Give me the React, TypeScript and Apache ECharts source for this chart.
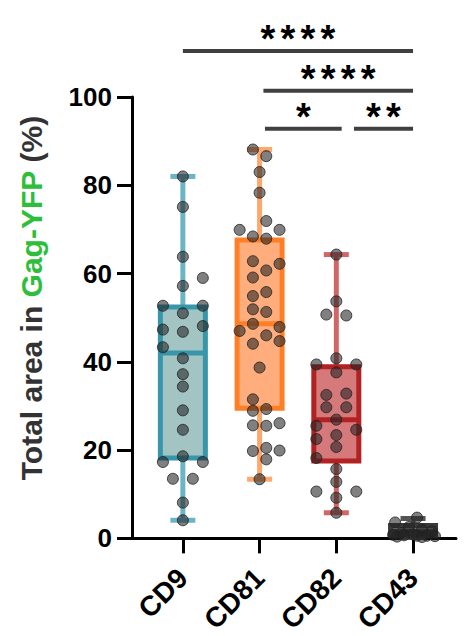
import React, { useEffect, useRef } from "react";
import * as echarts from "echarts";

// ---- data ----
const categories = ["CD9", "CD81", "CD82", "CD43"];
const yTicks = [0, 20, 40, 60, 80, 100];

const cd9Values = [82.0, 75.1, 63.8, 59.0, 57.2, 52.7, 52.7, 51.0, 47.3, 48.1, 46.8, 43.3, 40.8, 37.2, 34.4, 29.0, 24.6, 18.6, 17.3, 17.3, 13.5, 13.5, 8.1, 4.1];
const cd9Jitter = [0, 0, 0, 2, 0, -2, 2, 0, -2, 2, 0, -2, 0, 0, 0, 0, 0, 0, -2, 2, -1, 1, 0, 0];

const cd81Values = [88.1, 86.6, 83.0, 78.3, 71.9, 69.9, 69.9, 68.4, 67.9, 62.8, 62.2, 60.7, 59.1, 55.8, 54.9, 51.9, 51.3, 48.6, 47.0, 47.9, 46.0, 44.7, 44.1, 38.7, 31.5, 28.9, 29.3, 25.6, 25.5, 26.1, 19.8, 20.5, 19.9, 17.9, 13.4];
const cd81Jitter = [-0.67, 0.67, 0, 0, 0.67, -2, 2, -0.67, 0.67, -0.67, 2, 0.67, -0.67, 0.67, -0.67, -0.67, 0.67, -0.67, -2, 2, 0.67, 2, -0.67, 0, -0.67, -0.67, 0.67, -0.67, 0.67, 2, -0.67, 0.67, 2, 0.67, 0];

const cd82Values = [64.3, 53.7, 50.7, 50.5, 40.8, 39.4, 39.4, 37.6, 32.5, 32.8, 29.7, 29.7, 26.9, 25.5, 24.6, 23.4, 22.5, 20.7, 18.2, 15.7, 12.8, 10.6, 10.6, 9.2, 5.8];
const cd82Jitter = [0, 0, -1, 1, 0, -2, 2, 0, -1, 1, -1, 1, 0, -2, 2, 0, -2, 0, -2, 0, 0, -2, 2, 0, 0];

const cd43Values = [4.7, 3.6, 2.6, 2.0, 1.6, 1.2, 0.9, 0.8, 0.7, 0.6, 0.6, 0.5, 0.4, 0.3];
const cd43Jitter = [0.4, -1.8, -0.4, 0.9, 1.9, -1.2, 0, -2, -0.9, 0.4, 1.4, 2.2, -1.6, 0.9];

const boxMin = [4.1, 13.4, 5.8, 0.2];
const boxQ1 = [18.2, 29.5, 17.5, 0.7];
const boxMedian = [42.0, 48.6, 26.9, 1.5];
const boxQ3 = [52.4, 67.6, 38.9, 2.9];
const boxMax = [82.0, 88.1, 64.3, 4.5];

// significance brackets (x in category positions, level in y units)
const sigFrom = [1, 2.05, 2.07, 3.23];
const sigTo = [4, 4, 3.07, 4];
const sigLevel = [110.4, 101.4, 92.8, 92.8];
const sigLabels = ["****", "****", "*", "**"];

// ---- styles ----
const borderColors = ["#3796AA", "#FF7F27", "#B22222", "#3A3A3A"];
const fillColors = ["#A2C5C4", "#FFAD7C", "#D6797B", "#7A7A7A"];
const whiskerColors = ["#6BB5C6", "#FFA86E", "#D26666", "#555555"];
const JITTER_UNIT = 0.13; // one dot-width in category units
const FONT = "Arial, 'Liberation Sans', Helvetica, sans-serif";

const groups = [
  [cd9Values, cd9Jitter],
  [cd81Values, cd81Jitter],
  [cd82Values, cd82Jitter],
  [cd43Values, cd43Jitter],
];

export default function App() {
  const ref = useRef<HTMLDivElement>(null);
  useEffect(() => {
    if (!ref.current) return;
    const chart = echarts.init(ref.current, null, { renderer: "svg" });

    const pointData: number[][] = [];
    groups.forEach(([vals, jit], gi) => {
      (vals as number[]).forEach((v, i) => {
        pointData.push([gi + 1 + (jit as number[])[i] * JITTER_UNIT, v]);
      });
    });

    const boxData = categories.map((_, i) => [i + 1, boxMin[i], boxQ1[i], boxMedian[i], boxQ3[i], boxMax[i], i]);
    const sigData = sigLabels.map((_, i) => [sigFrom[i], sigTo[i], sigLevel[i], i]);

    const option: any = {
      animation: false,
      grid: { left: 132, right: 10, top: 97, bottom: 95, containLabel: false },
      xAxis: {
        type: "value",
        min: 0.337,
        max: 4.56,
        axisLine: { show: true, onZero: false, lineStyle: { color: "#000", width: 3 } },
        axisTick: { show: true, customValues: [1, 2, 3, 4], length: 15, lineStyle: { color: "#000", width: 3 } },
        axisLabel: {
          customValues: [1, 2, 3, 4],
          formatter: (v: number) => categories[Math.round(v) - 1] || "",
          rotate: 45,
          margin: 35,
          color: "#000",
          fontSize: 28,
          fontWeight: "bold",
          fontFamily: FONT,
        },
        splitLine: { show: false },
      },
      yAxis: {
        type: "value",
        min: 0,
        max: 100,
        interval: 20,
        axisLine: { show: true, onZero: false, lineStyle: { color: "#000", width: 3 } },
        axisTick: { show: true, length: 15, lineStyle: { color: "#000", width: 3 } },
        axisLabel: {
          customValues: yTicks,
          margin: 20,
          color: "#000",
          fontSize: 26,
          fontWeight: "bold",
          fontFamily: FONT,
        },
        splitLine: { show: false },
      },
      graphic: [
        {
          type: "text",
          x: 31,
          y: 298,
          rotation: Math.PI / 2,
          style: {
            text: "{a|Total area in }{b|Gag-YFP}{a| (%)}",
            align: "center",
            verticalAlign: "middle",
            rich: {
              a: { fill: "#333333", fontSize: 30, fontWeight: "bold", fontFamily: FONT },
              b: { fill: "#2DBE3C", fontSize: 30, fontWeight: "bold", fontFamily: FONT },
            },
          },
        },
      ],
      series: [
        {
          type: "custom",
          clip: false,
          data: boxData,
          z: 2,
          renderItem: (params: any, api: any) => {
            const x = api.value(0);
            const ci = api.value(6);
            const pMin = api.coord([x, api.value(1)]);
            const pQ1 = api.coord([x, api.value(2)]);
            const pMed = api.coord([x, api.value(3)]);
            const pQ3 = api.coord([x, api.value(4)]);
            const pMax = api.coord([x, api.value(5)]);
            const cx = pMin[0];
            const hb = 22.5;
            const hc = 12.5;
            const wStyle = { stroke: whiskerColors[ci], lineWidth: 5 };
            return {
              type: "group",
              children: [
                { type: "line", shape: { x1: cx, y1: pMax[1], x2: cx, y2: pQ3[1] }, style: wStyle },
                { type: "line", shape: { x1: cx, y1: pQ1[1], x2: cx, y2: pMin[1] }, style: wStyle },
                { type: "line", shape: { x1: cx - hc, y1: pMax[1], x2: cx + hc, y2: pMax[1] }, style: wStyle },
                { type: "line", shape: { x1: cx - hc, y1: pMin[1], x2: cx + hc, y2: pMin[1] }, style: wStyle },
                {
                  type: "rect",
                  shape: { x: cx - hb, y: pQ3[1], width: hb * 2, height: pQ1[1] - pQ3[1] },
                  style: { fill: fillColors[ci], stroke: borderColors[ci], lineWidth: 5 },
                },
                {
                  type: "line",
                  shape: { x1: cx - hb, y1: pMed[1], x2: cx + hb, y2: pMed[1] },
                  style: { stroke: borderColors[ci], lineWidth: 5 },
                },
              ],
            };
          },
        },
        {
          type: "scatter",
          data: pointData,
          clip: false,
          z: 3,
          symbol: "circle",
          symbolSize: 11,
          itemStyle: { color: "rgba(35,35,35,0.72)", borderColor: "#222", borderWidth: 1 },
        },
        {
          type: "custom",
          clip: false,
          data: sigData,
          z: 4,
          renderItem: (params: any, api: any) => {
            const i = api.value(3);
            const p1 = api.coord([api.value(0), api.value(2)]);
            const p2 = api.coord([api.value(1), api.value(2)]);
            const mid = (p1[0] + p2[0]) / 2;
            const n = sigLabels[i].length;
            const stars = sigLabels[i].split("").map((s, k) => ({
              type: "text",
              style: {
                x: mid + (k - (n - 1) / 2) * 20,
                y: p1[1] - 12,
                text: s,
                fill: "#000",
                font: `bold 38px ${FONT}`,
                align: "center",
                verticalAlign: "middle",
              },
            }));
            return {
              type: "group",
              children: [
                { type: "line", shape: { x1: p1[0], y1: p1[1], x2: p2[0], y2: p2[1] }, style: { stroke: "#404040", lineWidth: 4 } },
                ...stars,
              ],
            };
          },
        },
      ],
    };
    chart.setOption(option);
    return () => chart.dispose();
  }, []);

  return <div ref={ref} style={{ position: "absolute", left: 0, top: 0, width: 466, height: 636 }} />;
}
